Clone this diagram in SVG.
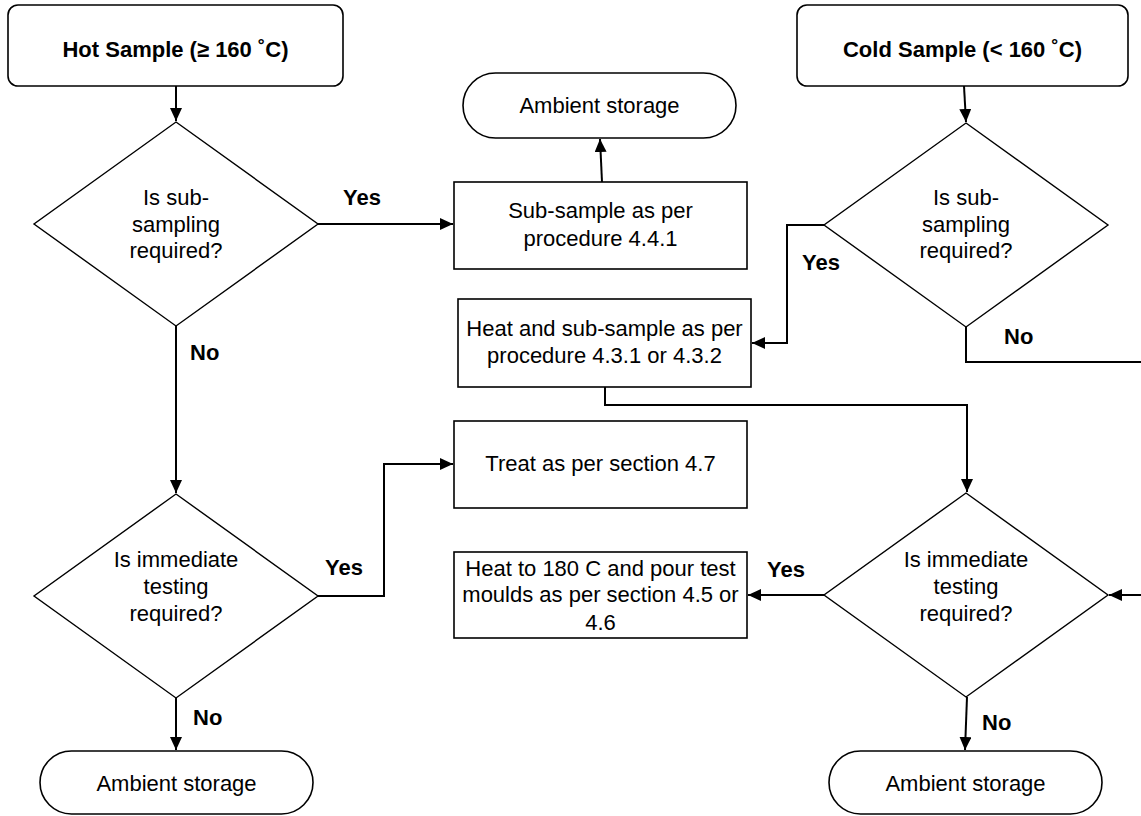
<svg xmlns="http://www.w3.org/2000/svg" width="1141" height="816" viewBox="0 0 1141 816">
<style>
.shape{fill:#fff;stroke:#000;stroke-width:1.6}
.dia{fill:#fff;stroke:#000;stroke-width:1.4}
.t{font-family:"Liberation Sans",Arial,sans-serif;font-size:22px;fill:#000;text-anchor:middle}
.b{font-family:"Liberation Sans",Arial,sans-serif;font-size:22px;font-weight:bold;fill:#000}
.c{fill:none;stroke:#000;stroke-width:2}
</style>
<defs>
<marker id="arr" markerUnits="userSpaceOnUse" markerWidth="14" markerHeight="12" refX="13" refY="6" orient="auto">
<path d="M0,0 L13,6 L0,12 z" fill="#000"/>
</marker>
</defs>
<rect width="1141" height="816" fill="#fff"/>
<g id="connectors">
<path class="c" d="M176,86 V121" marker-end="url(#arr)"/>
<path class="c" d="M318,224 H453" marker-end="url(#arr)"/>
<path class="c" d="M602,182 L600,139" marker-end="url(#arr)"/>
<path class="c" d="M176,326 V493" marker-end="url(#arr)"/>
<path class="c" d="M318,596 H384 V464 H453" marker-end="url(#arr)"/>
<path class="c" d="M176,698 V750" marker-end="url(#arr)"/>
<path class="c" d="M964,86 L966,122" marker-end="url(#arr)"/>
<path class="c" d="M824,225 H787 V343 H752" marker-end="url(#arr)"/>
<path class="c" d="M966,327 V362 H1160 V595 H1109" marker-end="url(#arr)"/>
<path class="c" d="M605,387 V405 H967 V492" marker-end="url(#arr)"/>
<path class="c" d="M824,595 H748" marker-end="url(#arr)"/>
<path class="c" d="M967,697 L965,750" marker-end="url(#arr)"/>
<text class="b" x="343" y="205">Yes</text>
<text class="b" x="190" y="360">No</text>
<text class="b" x="325" y="575">Yes</text>
<text class="b" x="193" y="725">No</text>
<text class="b" x="802" y="270">Yes</text>
<text class="b" x="1004" y="344">No</text>
<text class="b" x="767" y="577">Yes</text>
<text class="b" x="982" y="730">No</text>
</g>
<g id="hot">
<rect class="shape" x="8" y="5" width="335" height="81" rx="10"/>
<text class="b" x="175.5" y="57" text-anchor="middle">Hot Sample (≥ 160 ˚C)</text>
</g>
<g id="cold">
<rect class="shape" x="797" y="5" width="331" height="81" rx="10"/>
<text class="b" x="962.5" y="57" text-anchor="middle">Cold Sample (&lt; 160 ˚C)</text>
</g>
<g id="ambient-top">
<rect class="shape" x="463" y="73" width="273" height="65" rx="32.5"/>
<text class="t" x="599.5" y="113">Ambient storage</text>
</g>
<g id="subsample">
<rect class="shape" x="454" y="182" width="293" height="87"/>
<text class="t" x="600.5" y="218">Sub-sample as per</text>
<text class="t" x="600.5" y="246">procedure 4.4.1</text>
</g>
<g id="heat-subsample">
<rect class="shape" x="458" y="299" width="293" height="88"/>
<text class="t" x="604.5" y="336">Heat and sub-sample as per</text>
<text class="t" x="604.5" y="363">procedure 4.3.1 or 4.3.2</text>
</g>
<g id="treat">
<rect class="shape" x="454" y="421" width="293" height="87"/>
<text class="t" x="600.5" y="471">Treat as per section 4.7</text>
</g>
<g id="heat180">
<rect class="shape" x="454" y="552" width="293" height="86"/>
<text class="t" x="600.5" y="576">Heat to 180 C and pour test</text>
<text class="t" x="600.5" y="602">moulds as per section 4.5 or</text>
<text class="t" x="600.5" y="630">4.6</text>
</g>
<g id="hot-subsampling">
<polygon class="dia" points="176,122 318,224 176,326 34,224"/>
<text class="t" x="176" y="205">Is sub-</text>
<text class="t" x="176" y="232">sampling</text>
<text class="t" x="176" y="258">required?</text>
</g>
<g id="hot-testing">
<polygon class="dia" points="176,494 318,596 176,698 34,596"/>
<text class="t" x="176" y="567">Is immediate</text>
<text class="t" x="176" y="594">testing</text>
<text class="t" x="176" y="621">required?</text>
</g>
<g id="cold-subsampling">
<polygon class="dia" points="966,123 1108,225 966,327 824,225"/>
<text class="t" x="966" y="205">Is sub-</text>
<text class="t" x="966" y="232">sampling</text>
<text class="t" x="966" y="258">required?</text>
</g>
<g id="cold-testing">
<polygon class="dia" points="966,493 1108,595 966,697 824,595"/>
<text class="t" x="966" y="567">Is immediate</text>
<text class="t" x="966" y="594">testing</text>
<text class="t" x="966" y="621">required?</text>
</g>
<g id="ambient-left">
<rect class="shape" x="40" y="751" width="273" height="63" rx="31.5"/>
<text class="t" x="176.5" y="791">Ambient storage</text>
</g>
<g id="ambient-right">
<rect class="shape" x="829" y="751" width="273" height="63" rx="31.5"/>
<text class="t" x="965.5" y="791">Ambient storage</text>
</g>
</svg>
